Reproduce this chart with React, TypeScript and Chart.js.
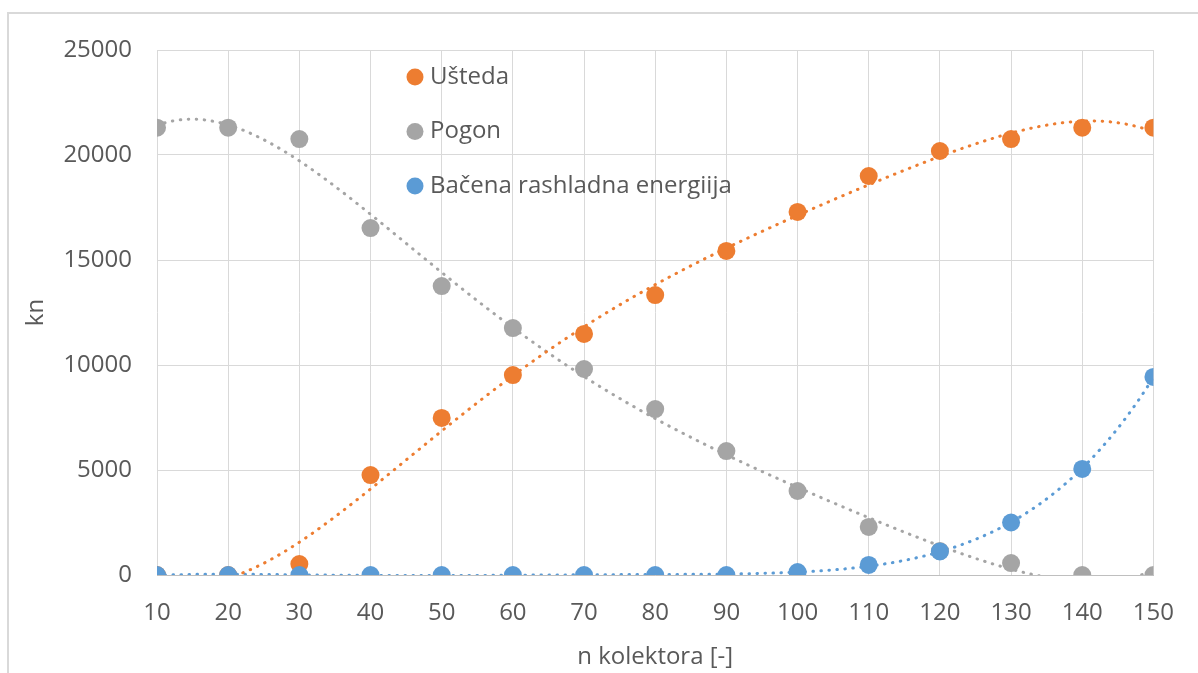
import React, { useEffect, useRef } from "react";
import { Chart, registerables } from "chart.js";

Chart.register(...registerables);

// ---- data ----
const xValues = [10, 20, 30, 40, 50, 60, 70, 80, 90, 100, 110, 120, 130, 140, 150];
const usteda = [0, 0, 520, 4760, 7480, 9520, 11480, 13330, 15430, 17290, 19000, 20190, 20760, 21300, 21300];
const pogon = [21300, 21300, 20760, 16520, 13760, 11760, 9810, 7900, 5900, 4000, 2290, 1140, 570, 0, 0];
const bacena = [0, 0, 0, 0, 0, 0, 0, 0, 0, 140, 480, 1120, 2500, 5050, 9430];
const seriesNames = ["Ušteda", "Pogon", "Bačena rashladna energiija"];
const seriesColors = ["#ED7D31", "#A5A5A5", "#5B9BD5"];
const trendOrders = [5, 5, 5];
const xTitle = "n kolektora [-]";
const yTitle = "kn";

const FONT = "'Open Sans', 'DejaVu Sans', sans-serif";
const TEXT = "#595959";

// least-squares polynomial trendline (as the spreadsheet does)
function polyFit(xs: number[], ys: number[], deg: number) {
  const c = 80, s = 70;
  const n = deg + 1;
  const A: number[][] = Array.from({ length: n }, () => new Array(n + 1).fill(0));
  xs.forEach((x, i) => {
    const t = (x - c) / s;
    for (let r = 0; r < n; r++) {
      for (let k = 0; k < n; k++) A[r][k] += Math.pow(t, r + k);
      A[r][n] += ys[i] * Math.pow(t, r);
    }
  });
  for (let i = 0; i < n; i++) {
    let p = i;
    for (let r = i + 1; r < n; r++) if (Math.abs(A[r][i]) > Math.abs(A[p][i])) p = r;
    [A[i], A[p]] = [A[p], A[i]];
    for (let r = 0; r < n; r++) {
      if (r === i) continue;
      const f = A[r][i] / A[i][i];
      for (let k = i; k <= n; k++) A[r][k] -= f * A[i][k];
    }
  }
  const coef = A.map((row, i) => row[n] / row[i]);
  return (x: number) => {
    const t = (x - c) / s;
    return coef.reduce((acc, a, i) => acc + a * Math.pow(t, i), 0);
  };
}

function trendPoints(ys: number[], deg: number) {
  const f = polyFit(xValues, ys, deg);
  const pts: { x: number; y: number }[] = [];
  for (let x = xValues[0]; x <= xValues[xValues.length - 1]; x += 0.5) pts.push({ x, y: f(x) });
  return pts;
}

const framePlugin = {
  id: "frame",
  beforeDraw(chart: any) {
    const ctx = chart.ctx;
    ctx.save();
    ctx.fillStyle = "#FFFFFF";
    ctx.fillRect(0, 0, chart.width, chart.height);
    ctx.fillStyle = "#D9D9D9";
    ctx.fillRect(7, 12, chart.width, 2);
    ctx.fillRect(7, 12, 2, chart.height);
    ctx.restore();
  },
};

const legendPlugin = {
  id: "innerLegend",
  afterDraw(chart: any) {
    const ctx = chart.ctx;
    ctx.save();
    ctx.font = `24px ${FONT}`;
    ctx.textBaseline = "middle";
    ctx.textAlign = "left";
    seriesNames.forEach((name, i) => {
      const y = 77 + i * 54.5;
      ctx.beginPath();
      ctx.fillStyle = seriesColors[i];
      ctx.arc(415, y, 8.5, 0, Math.PI * 2);
      ctx.fill();
      ctx.fillStyle = TEXT;
      ctx.fillText(name, 430, y);
    });
    ctx.restore();
  },
};

export default function App() {
  const ref = useRef<HTMLCanvasElement>(null);
  useEffect(() => {
    document.body.style.margin = "0";
    document.body.style.overflow = "hidden";
    const series = [usteda, pogon, bacena];
    const datasets: any[] = [];
    series.forEach((ys, i) => {
      datasets.push({
        type: "line",
        label: seriesNames[i] + " trend",
        data: trendPoints(ys, trendOrders[i]),
        borderColor: seriesColors[i],
        borderWidth: 3,
        borderDash: [0.5, 7.5],
        borderCapStyle: "round",
        pointRadius: 0,
        fill: false,
        tension: 0,
        order: 10 + i,
      });
    });
    series.forEach((ys, i) => {
      datasets.push({
        type: "scatter",
        label: seriesNames[i],
        data: xValues.map((x, k) => ({ x, y: ys[k] })),
        backgroundColor: seriesColors[i],
        borderColor: seriesColors[i],
        borderWidth: 0,
        pointRadius: 9,
        showLine: false,
        order: 3 - i,
      });
    });
    const chart = new Chart(ref.current!, {
      type: "scatter",
      data: { datasets },
      options: {
        animation: false,
        responsive: false,
        devicePixelRatio: 1,
        layout: { padding: { left: 0, top: 50, right: 43, bottom: 0 } },
        plugins: { legend: { display: false }, tooltip: { enabled: false } },
        scales: {
          x: {
            type: "linear",
            min: 10,
            max: 150,
            afterFit: (s: any) => { s.height = 98; },
            ticks: { stepSize: 10, padding: 24, color: TEXT, font: { family: FONT, size: 24 }, callback: (v: any) => String(v) },
            grid: { color: "#D9D9D9", lineWidth: 1, drawTicks: false, tickLength: 0 },
            border: { display: true, color: "#BFBFBF", width: 1 },
            title: { display: true, text: xTitle, color: TEXT, font: { family: FONT, size: 24 }, padding: { top: 0, bottom: 1 } },
          },
          y: {
            type: "linear",
            min: 0,
            max: 25000,
            afterFit: (s: any) => { s.width = 157; },
            ticks: { stepSize: 5000, padding: 25, color: TEXT, font: { family: FONT, size: 24 }, callback: (v: any) => String(v) },
            grid: { color: "#D9D9D9", lineWidth: 1, drawTicks: false, tickLength: 0 },
            border: { display: false },
            title: { display: true, text: yTitle, color: TEXT, font: { family: FONT, size: 24 }, padding: { top: 22, bottom: 0 } },
          },
        },
      },
      plugins: [framePlugin, legendPlugin],
    });
    return () => chart.destroy();
  }, []);
  return <canvas ref={ref} width={1198} height={673} style={{ display: "block" }} />;
}
